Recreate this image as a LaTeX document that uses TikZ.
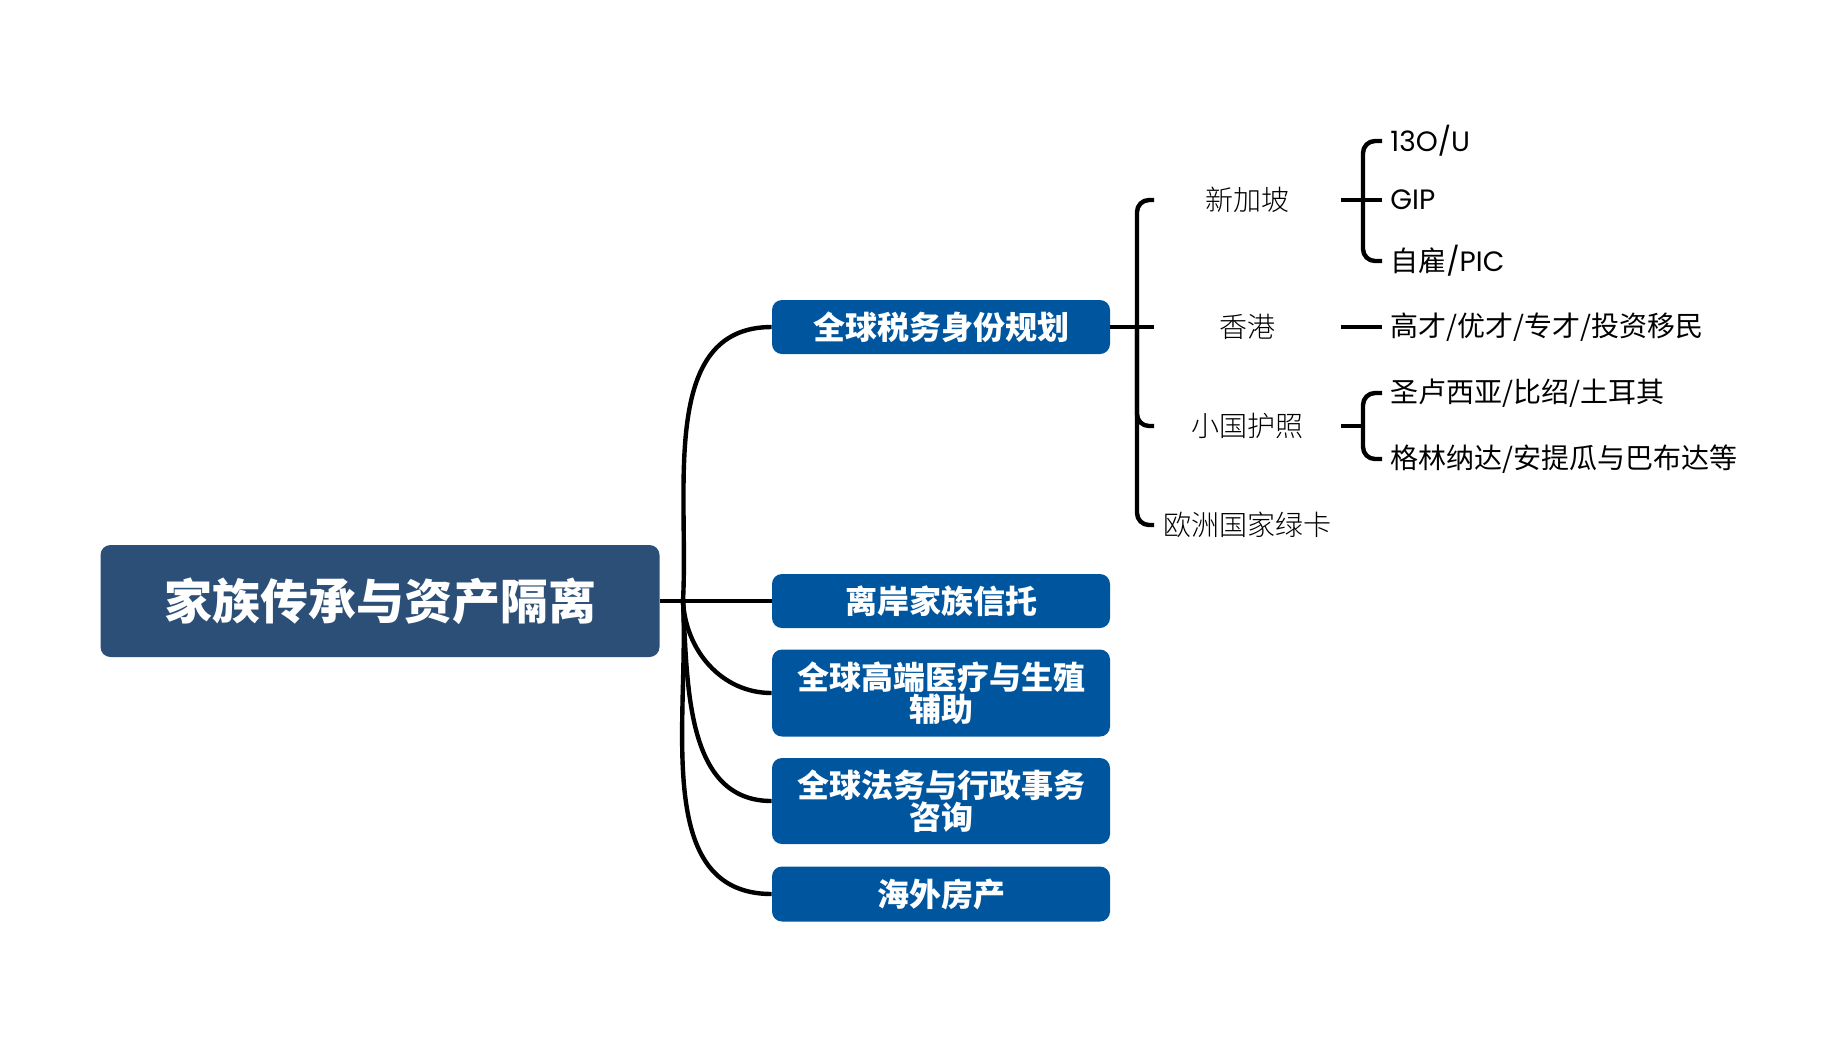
\documentclass[tikz,border=0pt]{standalone}
\usepackage{fontspec}
\setmainfont{Noto Sans CJK SC}
\newfontfamily\lat{Poppins}
\newfontfamily\thin{Noto Sans CJK SC Light}

\definecolor{rootblue}{HTML}{2C4F78}
\definecolor{topicblue}{HTML}{00569E}

\tikzset{
  rootbox/.style={fill=rootblue,rounded corners=5pt,minimum width=279.5pt,minimum height=56pt,text=white,font=\fontsize{24}{26}\selectfont\bfseries},
  topicbox/.style={fill=topicblue,rounded corners=5pt,minimum width=169pt,inner sep=0pt,text=white,align=center,font=\fontsize{16}{16}\selectfont\bfseries},
  subtopic/.style={anchor=west,minimum width=93pt,inner sep=0pt,font=\fontsize{14}{16}\selectfont\thin},
  leaf/.style={anchor=west,inner xsep=4pt,inner ysep=0pt,font=\fontsize{14}{16}\selectfont},
  branch/.style={line width=2.2pt,black},
  bracket/.style={branch,rounded corners=6pt}
}

\begin{document}
\begin{tikzpicture}[x=0.5pt,y=-0.5pt]
\useasboundingbox (0,0) rectangle (1846,1040);
\node[rootbox] (root) at (380,601) {家族传承与资产隔离};
\coordinate (fork) at (683,601);
\node[topicbox,minimum height=27pt] (tax) at (941,327) {全球税务身份规划};
\node[topicbox,minimum height=27pt] (trust) at (941,601) {离岸家族信托};
\node[topicbox,minimum height=43.5pt] (med) at (941,693) {全球高端医疗与生殖\\辅助};
\node[topicbox,minimum height=43pt] (law) at (941,801) {全球法务与行政事务\\咨询};
\node[topicbox,minimum height=27.5pt] (estate) at (941,894) {海外房产};
\draw[branch] (root.east) -- (fork) -- (trust.west);
\draw[branch] (fork) to[out=87,in=180] (tax.west);
\draw[branch] (fork) to[out=-87,in=180] (med.west);
\draw[branch] (fork) to[out=-87,in=180] (law.west);
\draw[branch] (fork) to[out=-87,in=180] (estate.west);

\coordinate (taxspine) at (1137,327);
\node[subtopic] (sg) at (1154,200) {新加坡};
\node[subtopic] (hk) at (1154,327) {香港};
\node[subtopic] (pass) at (1154,426) {小国护照};
\node[subtopic] (eu) at (1154,525) {欧洲国家绿卡};
\draw[branch] (tax.east) -- (hk.west);
\draw[bracket] (taxspine) |- (sg.west);
\draw[bracket] (taxspine) |- (pass.west);
\draw[bracket] (taxspine) |- (eu.west);

\coordinate (sgspine) at (1363,200);
\coordinate (passspine) at (1363,426);
\node[leaf] (o13) at (1382,141) {\lat 13O/U};
\node[leaf] (gip) at (1382,200) {\lat GIP};
\node[leaf] (pic) at (1382,261) {自雇{\lat /PIC}};
\node[leaf] (talent) at (1382,327) {高才/优才/专才/投资移民};
\node[leaf] (lucia) at (1382,393) {圣卢西亚/比绍/土耳其};
\node[leaf] (grenada) at (1382,459) {格林纳达/安提瓜与巴布达等};
\draw[branch] (sg.east) -- (gip.west);
\draw[bracket] (sgspine) |- (o13.west);
\draw[bracket] (sgspine) |- (pic.west);
\draw[branch] (hk.east) -- (talent.west);
\draw[branch] (pass.east) -- (passspine);
\draw[bracket] (passspine) |- (lucia.west);
\draw[bracket] (passspine) |- (grenada.west);
\end{tikzpicture}
\end{document}
